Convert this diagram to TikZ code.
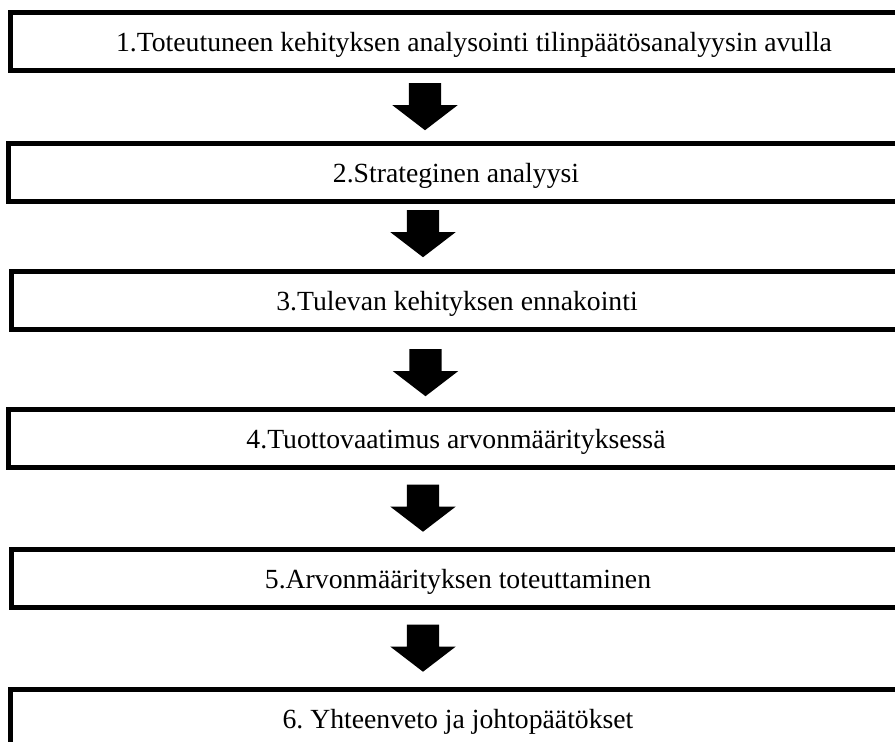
\documentclass[tikz,border=0pt]{standalone}
\usepackage{fontspec}
\setmainfont{Liberation Serif}
\usetikzlibrary{shapes.arrows}

\begin{document}
\begin{tikzpicture}
[x=1pt,y=-1pt,
phase/.style={draw,line width=5pt,minimum height=58pt,inner sep=0pt,text height=24pt,text depth=4pt,font=\fontsize{27.7}{33}\selectfont\frenchspacing},
down/.style={single arrow,fill=black,draw=none,rotate=-90,minimum height=47pt,text height=32pt,text depth=0pt,single arrow head extend=16.5pt,single arrow tip angle=105,inner sep=0pt},]

\useasboundingbox (0,0) rectangle (895,742);
\clip (0,0) rectangle (895,742);

%Phase boxes (right ends run off the page)
\node (p1) at (474,41.5)[phase,minimum width=927pt] {1.Toteutuneen kehityksen analysointi tilinpäätösanalyysin avulla};
\node (p2) at (456,172)[phase,minimum width=895pt] {2.Strateginen analyysi};
\node (p3) at (457,300)[phase,minimum width=891pt] {3.Tulevan kehityksen ennakointi};
\node (p4) at (456,438.5)[phase,minimum width=895pt] {4.Tuottovaatimus arvonmäärityksessä};
\node (p5) at (458,578)[phase,minimum width=893pt] {5.Arvonmäärityksen toteuttaminen};
\node (p6) at (458,718.5)[phase,minimum width=895pt] {6. Yhteenveto ja johtopäätökset};

%Block arrows between the phases
\node (a1) at (425,100.5)[down] {};
\node (a2) at (423,227.5)[down] {};
\node (a3) at (425.5,366.5)[down] {};
\node (a4) at (423,502)[down] {};
\node (a5) at (423,642)[down] {};

\end{tikzpicture}
\end{document}
